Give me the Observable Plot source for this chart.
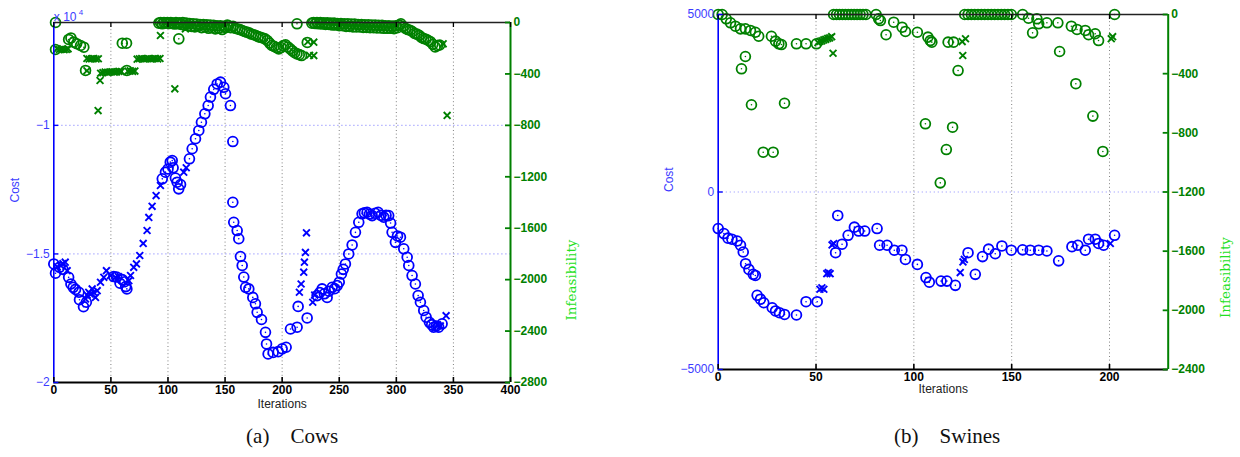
<!DOCTYPE html>
<html><head><meta charset="utf-8">
<script src="https://cdn.jsdelivr.net/npm/d3@7"></script>
<script src="https://cdn.jsdelivr.net/npm/@observablehq/plot@0.6"></script>
<style>
body{margin:0;background:#fff;}
#wrap{position:relative;width:1240px;height:457px;overflow:hidden;background:#fff;}
#a,#b{position:absolute;top:0;}
#a{left:0}#b{left:620px}
</style></head><body><div id="wrap"><div id="a"></div><div id="b"></div></div>
<script>
// ---------- Panel (a) Cows ----------
const cowsXTicks = [0,50,100,150,200,250,300,350,400];
const cowsCostTicks = [-20000,-15000,-10000];
const cowsInfTicks = [0,-400,-800,-1200,-1600,-2000,-2400,-2800];
const cowsCostO = [[0,-15390],[1.5,-15750],[5,-15520],[8,-15600],[13,-15910],[15,-16170],[17,-16300],[19,-16380],[22,-16490],[22.5,-16780],[26,-17050],[28.5,-16880],
[52.5,-15880],[55,-15900],[58,-16140],[60,-16000],[62,-16080],[63,-16270],[64,-16360],
[95,-12080],[97.8,-11820],[100,-11700],[102,-11430],[103.7,-11370],[104.5,-11650],[106.5,-12050],[108,-12210],[109.4,-12470],[111,-12300],
[118.8,-11300],[121.2,-10910],[124.1,-10520],[127,-10200],[129.3,-9880],[132.3,-9550],[135.2,-9230],[137.2,-8900],[140.1,-8600],[143.1,-8390],[146,-8320],[148.9,-8520],[150.4,-8770],[154.7,-9230],[156.8,-10630],[156.8,-12990],[157.6,-13770],[160.6,-14090],[162,-14410],[163.5,-15100],[165,-15450],[166.4,-15900],[168,-16300],[170.8,-16360],[174.3,-16690],[176.6,-16940],[178.1,-17270],[181.9,-17550],[185.4,-18050],[186.3,-18500],[187.7,-18890],[192.1,-18830],[196.5,-18800],[200,-18690],[203.5,-18630],[207.3,-17920],[213.1,-17850],[214,-17040],[221.9,-17490],
[230.6,-16620],[233,-16500],[235,-16360],[237,-16550],[239.4,-16690],[241,-16450],[243.8,-16300],[246,-16350],[248.2,-16230],[250,-16100],[251.9,-15780],[253.5,-15600],[255.4,-15390],[258.3,-15000],[261.3,-14650],[264.2,-14160],[267.1,-13770],[270,-13440],[272,-13400],[274.4,-13380],[276.5,-13450],[278.8,-13510],[281.5,-13420],[284.1,-13380],[286.5,-13500],[289,-13570],[291,-13500],[293.3,-13510],[295,-13800],[296.3,-14160],[299.2,-14550],[301,-14300],[303.6,-14350],[306.5,-14800],[309.5,-15130],[310.9,-15450],[313.8,-15840],[316.7,-16170],[319.1,-16620],[321.1,-16880],[324,-17200],[326.1,-17460],[329,-17660],[331,-17750],[332.7,-17850],[335,-17800],[337.1,-17850],[340.1,-17720]];
const cowsCostX = [[3,-15500],[6,-15450],[8,-15380],[10,-15320],[11.7,-15650],[27.8,-16750],[29.2,-16600],[30.6,-16490],[32,-16560],[33.6,-16360],[35,-16500],[36.5,-16690],[38,-16430],[40.9,-16100],[43.8,-15910],[46.1,-15650],[49.6,-15840],[54,-15910],[56.5,-15880],[65.7,-16040],[67.2,-15840],[70,-15520],[72.4,-15390],[75.3,-15060],[78.3,-14590],[81.7,-14090],[83.2,-13580],[86.1,-13150],[89.6,-12730],[93.4,-12340],[113.8,-11820],[116,-11650],
[215.1,-16490],[216.6,-16170],[218.9,-15710],[219.5,-15320],[220.4,-14940],[221.3,-14180],[226.8,-16880],[228.5,-16600],
[333.5,-17900],[336,-17750],[338.5,-17800],[343.6,-17400]];
const cowsInfO = [[1.5,0],[1.5,-210],[13,-132],[15,-120],[17.5,-153],[20,-165],[23.4,-179],[26.3,-192],[27.8,-373],[60,-161],[63.7,-161],[64,-373],
[92,-5],[93.5,0],[95,-10],[96.5,0],[98,-5],[99.5,0],[101,-8],[102.5,0],[104,-5],[105.5,-12],[107,0],[108.5,-10],[109.5,-127],[110,-3],[111.5,-15],[113,0],[114.5,-20],[116,-5],[117.5,-25],[119,-8],[120.5,-30],[122,-10],[123.5,-35],[125,-12],[126.5,-30],[128,-15],[129.5,-40],[131,-15],[132.5,-35],[134,-18],[135.5,-45],[137,-20],[138.5,-40],[140,-22],[141.5,-50],[143,-25],[144.5,-45],[146,-25],[147.5,-55],[149,-30],[150.5,-40],[152,-20],
[153,-25],[155,-40],[157,-30],[159,-45],[161,-50],[163,-55],[165,-62],[167,-70],[169,-75],[171,-80],[173,-90],[175,-95],[177,-101],[179,-110],[181,-115],[183,-120],[185,-127],[187,-140],[189,-160],[191,-179],[193,-185],[195,-195],[197,-205],[199,-195],[201,-180],[203,-173],[205,-190],[207,-205],[209,-220],[211,-235],[213,-244],[213,-10],[215,-250],[217,-257],[222,-155],
[226,-5],[227.5,0],[229,-8],[230.5,0],[232,-10],[233.5,0],[235,-12],[236.5,-2],[238,-15],[239.5,-3],[241,-15],[242.5,-5],[244,-20],[245.5,-5],[247,-20],[248.5,-8],[250,-25],[251.5,-8],[253,-25],[254.5,-10],[256,-30],[257.5,-10],[259,-30],[260.5,-12],[262,-35],[263.5,-12],[265,-35],[266.5,-15],[268,-35],[269.5,-15],[271,-38],[272.5,-18],[274,-38],[275.5,-18],[277,-40],[278.5,-20],[280,-40],[281.5,-20],[283,-42],[284.5,-22],[286,-42],[287.5,-22],[289,-45],[290.5,-25],[292,-45],[293.5,-25],[295,-45],[296.5,-28],[298,-48],[299.5,-25],[301,-40],[302.5,-20],
[304,-10],[306,-30],[308,-45],[310,-55],[312,-60],[314,-70],[316,-85],[318,-90],[320,-100],[322,-115],[324,-125],[326,-130],[328,-140],[330,-150],[332,-170],[334,-190],[336,-180],[338,-175]];
const cowsInfX = [[3,-205],[5,-210],[7,-208],[9,-212],[11,-210],[12.5,-205],
[29,-280],[31,-284],[33,-282],[35,-280],[37,-284],[39,-282],
[29,-375],[38.8,-685],[40.5,-451],
[41,-395],[43,-390],[45,-385],[47,-388],[49,-385],[51,-383],[53,-386],[55,-384],[57,-380],[59,-382],
[65,-378],[67,-376],[69,-380],[71,-378],
[73,-285],[75,-282],[77,-280],[79,-284],[81,-282],[83,-280],[85,-284],[87,-282],[89,-280],[91,-283],[93,-280],
[93.4,-101],[106,-516],[115.3,-49],
[222.5,-150],[227.7,-153],[224,-255],[227.7,-257],
[341,-166],[344.5,-723]];

// ---------- Panel (b) Swines ----------
const swinesXTicks = [0,50,100,150,200];
const swinesCostTicks = [-5000,0,5000];
const swinesInfTicks = [0,-400,-800,-1200,-1600,-2000,-2400];
const swinesCostO = [[0,-1030],[2.9,-1170],[5,-1300],[7,-1330],[9.7,-1380],[11.4,-1500],[12.8,-1690],[14,-2020],[15.7,-2180],[17.9,-2320],[19,-2350],[19.9,-2910],[21.6,-3020],[23.3,-3120],[27.6,-3260],[29.3,-3350],[31.3,-3400],[33.9,-3450],[40,-3465],[44.9,-3090],[50.6,-3090],[60,-1710],[61.1,-660],[63.3,-1470],[66.4,-1220],[69.6,-990],[71.8,-1100],[74.9,-1100],[81.2,-1030],[82.5,-1500],[86.3,-1500],[90,-1640],[93.9,-1640],[95.7,-1900],[101.8,-2040],[106.2,-2410],[107.9,-2540],[113.9,-2510],[116.9,-2510],[121.2,-2630],[127.7,-1710],[131.4,-2320],[135.1,-1820],[138.2,-1610],[141.6,-1740],[145,-1520],[149.8,-1640],[155.6,-1630],[159.5,-1640],[163.8,-1640],[168,-1660],[174,-1940],[180.8,-1540],[183.8,-1500],[187.6,-1640],[189.3,-1330],[192.7,-1330],[194.4,-1450],[197,-1500],[202.6,-1220]];
const swinesCostX = [[52,-2740],[53,-2700],[54,-2740],[55.5,-2300],[56.3,-2270],[57.2,-2300],[58.2,-1490],[59,-1450],[123.7,-2270],[125.1,-1970],[125.8,-1900],[200.4,-1450]];
const swinesInfO = [[0,0],[2,0],[4.1,-29],[6.3,-56],[8.8,-79],[11.4,-97],[13.9,-97],[16.5,-108],[19,-120],[20.7,-147],[27.2,-147],[29.3,-180],[31,-198],[32.3,-203],[11.9,-367],[13.9,-284],[17,-610],[23,-931],[28.1,-931],[33.9,-600],[40,-198],[44.9,-198],[50.2,-198],
[59,0],[60.5,0],[62,0],[63.5,0],[65,0],[66.5,0],[68,0],[69.5,0],[71,0],[72.5,0],[74,0],[75.5,0],
[80.7,0],[82,-29],[82.9,-41],[85.8,-137],[89.7,-52],[94,-86],[95.7,-115],[101.8,-120],[105.9,-739],[107.2,-153],[108.4,-176],[109.2,-187],[117.5,-187],[120.3,-187],[122.6,-379],[119.8,-762],[116.6,-913],[113.5,-1138],
[126,0],[127.7,0],[129.4,0],[131.1,0],[132.8,0],[134.5,0],[136.2,0],[137.9,0],[139.6,0],[141.3,0],[143,0],[144.7,0],[146.4,0],[148.1,0],[149.8,0],
[155.6,0],[158.6,-25],[162.9,-29],[163.8,-63],[160.7,-124],[168,-56],[173.6,-56],[174.5,-250],[180.5,-79],[183.4,-101],[187.6,-108],[189.3,-137],[192.7,-130],[194.4,-176],[182.8,-468],[191.5,-687],[196.6,-926],[202.6,0]];
const swinesInfX = [[51,-190],[52,-182],[53,-178],[54,-172],[55,-168],[56,-162],[57,-158],[58,-150],[58.7,-262],[124.7,-183],[126.4,-164],[125,-277],[200.9,-164],[201.6,-150]];

const BLUE = "#0000ff", GREEN = "#008000", LABELGREEN = "#22e022";
const SANS = "Liberation Sans, Arial, Helvetica, sans-serif";
const minus = s => String(s).replace("-", "\u2212");

function panel(o) {
  const W = 620, H = 457;
  const fw = W - o.ml - o.mr, fh = H - o.mt - o.mb;
  const [cMin, cMax] = o.cDom, [iMin, iMax] = o.iDom;
  const toY = v => cMin + (v - iMin) / (iMax - iMin) * (cMax - cMin);
  const cost = a => a.map(([x, v]) => ({x, y: v}));
  const inf = a => a.map(([x, v]) => ({x, y: toY(v)}));
  const circ = (data, c) => [
    Plot.dot(data, {x: "x", y: "y", r: 4.9, stroke: c, strokeWidth: 1.8, fill: "none"}),
    Plot.dot(data, {x: "x", y: "y", r: 0.8, fill: c})
  ];
  const cross = (data, c) => Plot.dot(data, {x: "x", y: "y", symbol: "times", r: 3.2, stroke: c, strokeWidth: 1.9});
  const gridY = o.costTicks.filter(d => d !== cMin && d !== cMax);
  const gridX = o.xTicks.filter(d => d !== o.xDom[0] && d !== o.xDom[1]);
  const marks = [
    Plot.ruleX(gridX, {x: d => d, stroke: "#808080", strokeDasharray: "1,2.6", strokeWidth: 1}),
    Plot.ruleY(gridY, {y: d => d, stroke: "#a0a0ff", strokeDasharray: "1.2,2.8", strokeWidth: 1.2}),
    ...circ(inf(o.infO), GREEN), cross(inf(o.infX), GREEN),
    ...circ(cost(o.costO), BLUE), cross(cost(o.costX), BLUE),
    // axis lines
    Plot.ruleY([cMax], {y: d => d, stroke: "#222", strokeWidth: 1.3}),
    Plot.ruleY([cMin], {y: d => d, stroke: "#000", strokeWidth: 2.2}),
    Plot.ruleX([o.xDom[0]], {x: d => d, stroke: BLUE, strokeWidth: 1.6}),
    Plot.ruleX([o.xDom[1]], {x: d => d, stroke: GREEN, strokeWidth: 2}),
    // ticks (inward)
    Plot.ruleX(o.xTicks, {x: d => d, stroke: "#000", strokeWidth: 1.6, insetTop: fh - 5}),
    Plot.ruleX(o.xTicks, {x: d => d, stroke: "#000", strokeWidth: 1.3, insetBottom: fh - 5}),
    Plot.ruleY(o.costTicks, {y: d => d, stroke: BLUE, strokeWidth: 1.4, insetRight: fw - 5}),
    Plot.ruleY(o.infTicks.map(toY), {y: d => d, stroke: GREEN, strokeWidth: 1.8, insetLeft: fw - 5}),
    // tick labels
    Plot.text(o.xTicks, {x: d => d, text: d => String(d), frameAnchor: "bottom", dy: 11, fontSize: 12, fontWeight: "bold", fill: "#000", fontFamily: SANS}),
    Plot.text(o.costTicks, {y: d => d, text: o.costFmt, frameAnchor: "left", dx: -4, textAnchor: "end", fontSize: 12, fill: "#3c3cff", fontFamily: SANS}),
    Plot.text(o.infTicks, {y: d => toY(d), text: d => minus(d), frameAnchor: "right", dx: 3, textAnchor: "start", fontSize: 12, fontWeight: "bold", fill: GREEN, fontFamily: SANS}),
    // axis titles
    Plot.text(["Cost"], {text: d => d, frameAnchor: "left", dx: o.costDx, dy: o.costDy, rotate: -90, fontSize: 12, fill: "#3c3cff", fontFamily: SANS}),
    Plot.text(["Infeasibility"], {text: d => d, frameAnchor: "right", dx: o.infDx, dy: o.infDy, rotate: -90, fontSize: 13.5, fill: LABELGREEN, fontFamily: "DejaVu Serif, serif"}),
    Plot.text(["Iterations"], {text: d => d, frameAnchor: "bottom", dy: o.itDy, fontSize: 12, fill: "#222", fontFamily: SANS}),
    Plot.text([o.caption], {text: d => d, frameAnchor: "bottom", dx: o.capDx, dy: o.capDy, fontSize: 21, fill: "#111", fontFamily: "Liberation Serif, Times New Roman, serif"})
  ];
  if (o.exp) {
    marks.push(Plot.text(["x 10"], {text: d => d, frameAnchor: "top-left", dx: 0, dy: -10, textAnchor: "start", fontSize: 12, fill: "#3c3cff", fontFamily: SANS}));
    marks.push(Plot.text(["4"], {text: d => d, frameAnchor: "top-left", dx: 25, dy: -13, textAnchor: "start", fontSize: 8, fill: "#3c3cff", fontFamily: SANS}));
  }
  return Plot.plot({
    width: W, height: H,
    marginLeft: o.ml, marginRight: o.mr, marginTop: o.mt, marginBottom: o.mb,
    x: {domain: o.xDom, axis: null},
    y: {domain: o.cDom, axis: null},
    style: {background: "transparent", overflow: "visible", fontFamily: SANS},
    marks
  });
}

document.getElementById("a").appendChild(panel({
  ml: 53.3, mr: 110, mt: 22, mb: 75,
  xDom: [0, 400], cDom: [-20000, -6000], iDom: [-2800, 0],
  xTicks: cowsXTicks, costTicks: cowsCostTicks, infTicks: cowsInfTicks,
  costFmt: d => minus(d / 1e4),
  costO: cowsCostO, costX: cowsCostX, infO: cowsInfO, infX: cowsInfX,
  costDx: -39, costDy: 0, infDx: 61, infDy: 37, itDy: 25,
  caption: "(a)\u2002\u2002Cows", capDx: 10, capDy: 60, exp: true
}));
document.getElementById("b").appendChild(panel({
  ml: 97.7, mr: 72.3, mt: 14, mb: 88,
  xDom: [0, 230], cDom: [-5000, 5000], iDom: [-2400, 0],
  xTicks: swinesXTicks, costTicks: swinesCostTicks, infTicks: swinesInfTicks,
  costFmt: d => minus(d),
  costO: swinesCostO, costX: swinesCostX, infO: swinesInfO, infX: swinesInfX,
  costDx: -49, costDy: 0, infDx: 57, infDy: 45, itDy: 23,
  caption: "(b)\u2002\u2002Swines", capDx: 4, capDy: 73, exp: false
}));
</script></body></html>
